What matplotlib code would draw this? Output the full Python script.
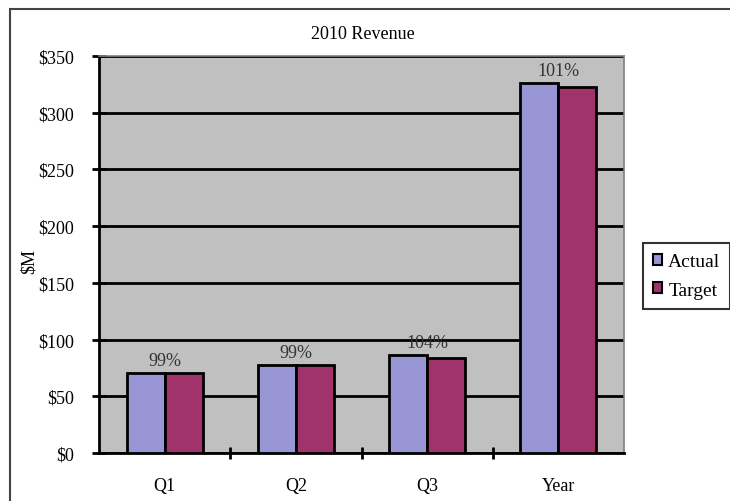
import numpy as np
import matplotlib.pyplot as plt
from matplotlib.patches import Patch, Rectangle

categories = ["Q1", "Q2", "Q3", "Year"]
actual = [70.5, 77.5, 86.5, 326]
target = [70.5, 77.5, 83.5, 322.5]
pct_labels = ["99%", "99%", "104%", "101%"]
yticks = [0, 50, 100, 150, 200, 250, 300, 350]

plt.rcParams['font.family'] = ['Liberation Serif', 'DejaVu Serif']

fig = plt.figure(figsize=(7.3, 5.02), dpi=100)

# outer chart frame (left and top edges visible)
fig.patches.append(Rectangle((10 / 730, -0.1), 1.2, 1 - 10 / 502 + 0.1,
                             transform=fig.transFigure, fill=False,
                             edgecolor='#444444', linewidth=1.5))

ax = fig.add_axes([99 / 730, 1 - 454 / 502, 525 / 730, 397 / 502])
ax.set_facecolor('#c0c0c0')

x = np.arange(len(categories))
w = 0.29
ax.bar(x - w / 2, actual, w, color='#9896d4', edgecolor='black', linewidth=2, zorder=3)
ax.bar(x + w / 2, target, w, color='#a0336a', edgecolor='black', linewidth=2, zorder=3)

for i, lab in enumerate(pct_labels):
    top = max(actual[i], target[i])
    ax.annotate(lab, (x[i], top), xytext=(0, 3), textcoords='offset points',
                ha='center', va='bottom', fontsize=13, color='#333333', zorder=4)

ax.set_xlim(-0.5, 3.5)
ax.set_ylim(0, 350)
ax.set_yticks(yticks)
ax.set_yticklabels([f"${v}" for v in yticks], fontsize=13)
ax.yaxis.grid(True, color='black', linewidth=2, zorder=1)
ax.set_axisbelow(True)

ax.set_xticks([0.5, 1.5, 2.5], minor=False)
ax.set_xticklabels([])
ax.set_xticks(x, minor=True)
ax.set_xticklabels(categories, minor=True, fontsize=13)
ax.tick_params(axis='x', which='minor', length=0, pad=17)
ax.tick_params(axis='x', which='major', length=8, width=2, direction='inout')
ax.tick_params(axis='y', length=10, width=2, direction='inout', pad=13)

for s in ['top', 'right']:
    ax.spines[s].set_color('#808080')
    ax.spines[s].set_linewidth(1.2)
for s in ['left', 'bottom']:
    ax.spines[s].set_color('black')
    ax.spines[s].set_linewidth(2)

ax.set_ylabel("$M", fontsize=13)
ax.yaxis.set_label_coords((38 - 99) / 525, (454 - 262) / 397)
fig.text(363 / 730, 1 - 35 / 502, "2010 Revenue", ha='center', va='center', fontsize=13)

handles = [Patch(facecolor='#9896d4', edgecolor='black', linewidth=1.5),
           Patch(facecolor='#a0336a', edgecolor='black', linewidth=1.5)]
leg = fig.legend(handles, ["Actual", "Target"], loc='center left',
                 bbox_to_anchor=(643 / 730, 1 - 277 / 502), fontsize=14,
                 frameon=True, fancybox=False, edgecolor='black',
                 handlelength=0.5, handleheight=0.5, handletextpad=0.3,
                 labelspacing=0.6, borderpad=0.5, borderaxespad=0)
leg.get_frame().set_linewidth(1.5)

fig.savefig("out.png", dpi=100)
